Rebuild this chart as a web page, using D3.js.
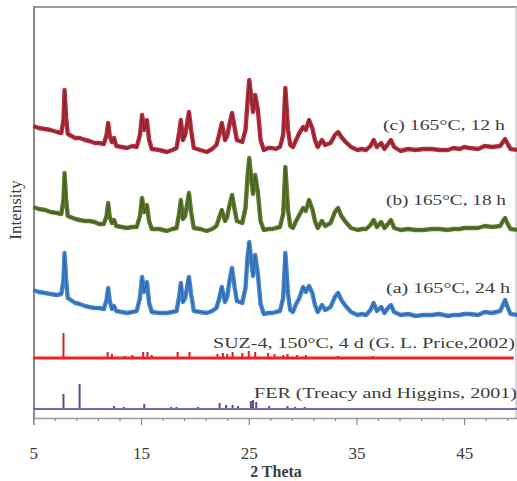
<html>
<script src='https://d3js.org/d3.v7.min.js'></script>
<style>
  body {margin: 0; background: #fff;}
  text {font-family: "Liberation Serif", "DejaVu Serif", serif; fill: #3c3c3c;}
</style>
<body>
<svg width=517 height=481></svg>
<script>

// tick labels on the 2 Theta axis
var majorTicks = [5, 15, 25, 35, 45];
var minorTicks = [7, 9, 11, 13, 17, 19, 21, 23, 27, 29, 31, 33, 37, 39, 41, 43, 47, 49];

// series names, as written next to each pattern
var seriesNames = ["(c) 165°C, 12 h", "(b) 165°C, 18 h", "(a) 165°C, 24 h",
                   "SUZ-4, 150°C, 4 d (G. L. Price,2002)", "FER (Treacy and Higgins, 2001)"];
// vertical stacking offset of each pattern (intensity units)
var offsets = [268, 188, 106, 60, 9];

// measured patterns: [2 theta, intensity above own baseline]
var pattern12h = [[5.0,24],[5.5,22],[6.1,21],[6.6,20],[7.2,18],[7.6,17],[7.8,30],[7.9,60],[8.05,32],[8.2,16],[8.9,12],[9.3,12],[9.8,10],
  [10.2,9],[10.7,7],[11.1,7],[11.55,6],[11.8,15],[11.95,27],[12.1,14],[12.3,8],[12.5,12],[12.7,4],[13.2,3],[13.7,2],[14.2,4],[14.6,3],[14.9,15],
  [15.1,35],[15.3,20],[15.55,30],[15.75,10],[16.0,1],[16.7,0],[17.4,-2],[17.9,0],[18.3,2],[18.55,18],[18.7,30],[18.9,10],[19.1,15],
  [19.45,38],[19.65,20],[19.9,2],[20.5,0],[21.1,-2],[21.6,1],[22.0,5],[22.25,15],[22.5,27],[22.8,10],[23.0,14],[23.2,25],[23.45,37],
  [23.7,22],[23.9,10],[24.4,8],[24.7,20],[24.9,50],[25.05,70],[25.25,52],[25.4,38],[25.6,55],[25.85,40],[26.1,10],
  [26.4,0],[26.8,2],[27.2,2],[27.5,1],[27.9,3],[28.2,15],[28.4,62],[28.65,20],[28.85,5],[29.1,3],[29.4,10],[29.7,17],[30.05,23],
  [30.3,20],[30.6,30],[30.9,22],[31.15,10],[31.4,3],[31.8,10],[32.1,5],[32.6,7],[33.0,15],[33.3,18],[33.6,13],
  [34.0,8],[34.5,3],[35.1,0],[35.5,1],[35.9,0],[36.3,4],[36.6,10],[36.9,3],[37.3,7],[37.6,1],[38.0,7],[38.2,10],[38.5,3],
  [39.1,-1],[39.8,1],[40.5,0],[41.2,1],[42.0,1],[42.7,0],[43.5,0],[44.0,2],[44.6,1],[45.0,3],[45.5,2],[46.3,1],[46.9,4],[47.6,3],[48.35,4],[48.6,8],[48.8,11],
  [49.0,7],[49.3,1],[50.0,0]];

var pattern18h = [[5.0,23],[5.5,21],[6.1,20],[6.6,18],[7.2,17],[7.6,16],[7.8,30],[7.9,57],[8.05,30],[8.2,14],[8.9,11],[9.3,10],[9.8,9],
  [10.2,9],[10.7,8],[11.1,6],[11.55,6],[11.8,14],[11.95,27],[12.1,13],[12.3,7],[12.5,10],[12.7,4],[13.2,3],[13.7,2],[14.2,3],[14.6,3],[14.9,14],
  [15.1,32],[15.3,18],[15.55,25],[15.75,9],[16.0,1],[16.7,1],[17.4,-1],[17.9,1],[18.3,2],[18.55,17],[18.7,30],[18.9,11],[19.1,14],
  [19.45,37],[19.65,18],[19.9,2],[20.5,1],[21.1,-1],[21.6,1],[22.0,4],[22.25,12],[22.5,20],[22.8,9],[23.0,13],[23.2,24],[23.45,35],
  [23.7,20],[23.9,9],[24.4,7],[24.7,22],[24.9,55],[25.05,72],[25.25,50],[25.4,36],[25.6,55],[25.85,38],[26.1,9],
  [26.4,0],[26.8,1],[27.2,1],[27.5,2],[27.9,3],[28.2,16],[28.4,63],[28.65,20],[28.85,4],[29.1,2],[29.4,9],[29.7,15],[30.05,22],
  [30.3,19],[30.6,30],[30.9,21],[31.15,9],[31.4,2],[31.8,9],[32.1,4],[32.6,7],[33.0,18],[33.3,22],[33.6,14],
  [34.0,8],[34.5,2],[35.1,0],[35.5,1],[35.9,1],[36.3,5],[36.6,10],[36.9,3],[37.3,8],[37.6,2],[38.0,7],[38.2,10],[38.5,2],
  [39.1,0],[39.8,1],[40.5,0],[41.2,0],[42.0,1],[42.7,1],[43.5,0],[44.0,1],[44.6,1],[45.0,2],[45.5,2],[46.3,2],[46.9,4],[47.6,3],[48.35,4],[48.6,9],[48.8,12],
  [49.0,7],[49.3,1],[50.0,0]];

var pattern24h = [[5.0,22],[5.5,20],[6.1,19],[6.6,18],[7.2,17],[7.6,18],[7.8,32],[7.9,59],[8.05,32],[8.2,14],[8.9,9],[9.3,8],[9.8,6],
  [10.2,5],[10.7,4],[11.1,4],[11.55,3],[11.8,12],[11.95,24],[12.1,11],[12.3,3],[12.5,6],[12.7,1],[13.2,0],[13.7,-1],[14.2,0],[14.6,1],[14.9,14],
  [15.1,35],[15.3,20],[15.55,30],[15.75,9],[16.0,0],[16.7,-1],[17.4,-1],[17.9,0],[18.3,1],[18.55,16],[18.7,29],[18.9,10],[19.1,14],
  [19.45,35],[19.65,18],[19.9,1],[20.5,0],[21.1,-1],[21.6,1],[22.0,4],[22.25,13],[22.5,25],[22.8,10],[23.0,15],[23.2,30],[23.45,44],
  [23.7,24],[23.9,11],[24.4,9],[24.7,24],[24.9,56],[25.05,70],[25.25,50],[25.4,36],[25.6,57],[25.85,38],[26.1,8],
  [26.4,-2],[26.8,-1],[27.2,-1],[27.5,0],[27.9,1],[28.2,14],[28.4,59],[28.65,18],[28.85,2],[29.1,0],[29.4,8],[29.7,14],[30.05,25],
  [30.3,20],[30.6,26],[30.9,19],[31.15,7],[31.4,0],[31.8,7],[32.1,2],[32.6,5],[33.0,15],[33.3,19],[33.6,12],
  [34.0,6],[34.5,0],[35.1,-3],[35.5,-2],[35.9,-3],[36.3,2],[36.6,9],[36.9,1],[37.3,5],[37.6,-1],[38.0,5],[38.2,7],[38.5,0],
  [39.1,-3],[39.8,-2],[40.5,-4],[41.2,-3],[42.0,-3],[42.7,-2],[43.5,-4],[44.0,-3],[44.6,-3],[45.0,-2],[45.5,-2],[46.3,-3],[46.9,0],[47.6,-1],[48.35,1],[48.6,7],[48.8,12],
  [49.0,6],[49.3,-2],[50.0,-3]];

// reference stick patterns: [2 theta, relative intensity]
var sticksSUZ4 = [[7.8,25],[11.9,6],[12.3,4],[13.5,2],[14.2,3],[15.2,6],[15.6,6],[16.0,3],[18.4,6],[19.5,6],
  [22.1,4],[22.6,5],[23.0,4],[23.5,6],[24.4,5],[25.0,7],[25.6,6],[26.8,5],[27.4,4],[28.2,3],[28.6,4],[29.5,3],
  [30.3,3],[33.3,2],[36.5,2]];
var sticksFER = [[7.8,15],[9.3,25],[12.5,3],[13.4,2],[15.3,5],[17.8,2],[18.3,2],[20.3,2],[22.3,6],[22.9,4],
  [23.5,4],[24.0,3],[25.2,8],[25.4,9],[25.7,7],[26.9,3],[28.6,3],[29.3,2],[30.2,2]];

var svg = d3.select("svg");
var x = d3.scaleLinear().domain([5, 50]).range([33.3, 518]);
var y = d3.scaleLinear().domain([0, 411]).range([418, 7]);

// frame
svg.append("line").attr("x1", 34).attr("x2", 517).attr("y1", 7).attr("y2", 7)
  .attr("stroke", "#9a9a9a").attr("stroke-width", 2);
svg.append("line").attr("x1", 516).attr("x2", 516).attr("y1", 7).attr("y2", 418)
  .attr("stroke", "#c8c8c8").attr("stroke-width", 1.5);
svg.append("line").attr("x1", 34).attr("x2", 34).attr("y1", 6).attr("y2", 418)
  .attr("stroke", "#8a8a8a").attr("stroke-width", 2);

// x axis
var xMajor = d3.axisBottom(x).tickValues(majorTicks).tickSize(7).tickPadding(22).tickFormat(d3.format("d"));
var xMinor = d3.axisBottom(x).tickValues(minorTicks).tickSize(3).tickFormat("");
var gx = svg.append("g").attr("transform", "translate(0,418)").call(xMajor);
svg.append("g").attr("transform", "translate(0,418)").call(xMinor).select(".domain").remove();
gx.select(".domain").attr("stroke", "#9a9a9a").attr("stroke-width", 1.5);
svg.selectAll(".tick line").attr("stroke", "#8a8a8a").attr("stroke-width", 1.2);
gx.selectAll(".tick text").attr("font-family", "Liberation Serif").attr("font-size", 17).attr("fill", "#555");

// measured patterns
var line = function (off) {
  return d3.line().x(function (d) { return x(d[0]); }).y(function (d) { return y(d[1] + off); });
};
var traces = [pattern12h, pattern18h, pattern24h];
var outer = ["#b8303f", "#5e7d2c", "#4486cf"];
var inner = ["#7a1f2c", "#3d5520", "#2c5fa6"];
traces.forEach(function (t, i) {
  svg.append("path").attr("d", line(offsets[i])(t)).attr("fill", "none")
    .attr("stroke", outer[i]).attr("stroke-width", 4.4).attr("stroke-linejoin", "round");
  svg.append("path").attr("d", line(offsets[i])(t)).attr("fill", "none")
    .attr("stroke", inner[i]).attr("stroke-width", 1.3).attr("opacity", 0.8);
});

// stick patterns
svg.append("g").selectAll("line").data(sticksSUZ4).enter().append("line")
  .attr("x1", function (d) { return x(d[0]); }).attr("x2", function (d) { return x(d[0]); })
  .attr("y1", y(offsets[3])).attr("y2", function (d) { return y(offsets[3] + d[1]); })
  .attr("stroke", "#d8202a").attr("stroke-width", 2);
svg.append("line").attr("x1", x(5)).attr("x2", x(49.6)).attr("y1", y(offsets[3])).attr("y2", y(offsets[3]))
  .attr("stroke", "#ee2222").attr("stroke-width", 3.2);

svg.append("g").selectAll("line").data(sticksFER).enter().append("line")
  .attr("x1", function (d) { return x(d[0]); }).attr("x2", function (d) { return x(d[0]); })
  .attr("y1", y(offsets[4])).attr("y2", function (d) { return y(offsets[4] + d[1]); })
  .attr("stroke", "#5a4a96").attr("stroke-width", 2);
svg.append("line").attr("x1", x(5)).attr("x2", x(50)).attr("y1", y(offsets[4])).attr("y2", y(offsets[4]))
  .attr("stroke", "#7466b4").attr("stroke-width", 2);

// labels: [x start, baseline, width]
var labelPos = [[383, 130, 122], [386, 205, 120], [386, 293, 124], [213, 348, 302], [254, 398, 263]];
seriesNames.forEach(function (s, i) {
  svg.append("text").attr("x", labelPos[i][0]).attr("y", labelPos[i][1])
    .attr("font-size", 15).attr("textLength", labelPos[i][2]).attr("lengthAdjust", "spacingAndGlyphs")
    .text(s);
});

svg.append("text").attr("transform", "translate(21,210) rotate(-90)").attr("text-anchor", "middle")
  .attr("font-size", 17).attr("fill", "#333").text("Intensity");
svg.append("text").attr("x", 276).attr("y", 477).attr("text-anchor", "middle")
  .attr("font-size", 16).attr("font-weight", "bold").attr("fill", "#333").text("2 Theta");
</script>
</body>
</html>
